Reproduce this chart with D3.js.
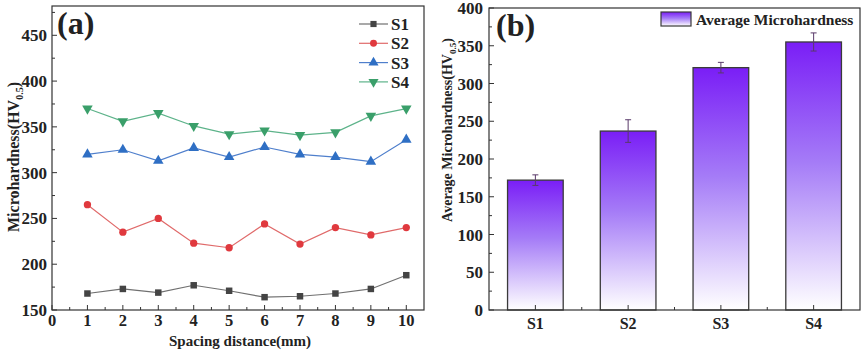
<!DOCTYPE html>
<html>
<head>
<meta charset="utf-8">
<script src="https://cdn.jsdelivr.net/npm/d3@7"></script>
<style>
  body { margin: 0; background: #fff; }
  svg text { font-family: "Liberation Serif", "DejaVu Serif", serif; font-weight: bold; fill: #222; }
</style>
</head>
<body>
<svg id="chart" width="865" height="350"></svg>
<script>
// panel (a): microhardness along the spacing distance
const distances = [1, 2, 3, 4, 5, 6, 7, 8, 9, 10];
const s1Values = [168, 173, 169, 177, 171, 164, 165, 168, 173, 188];
const s2Values = [265, 235, 250, 223, 218, 244, 222, 240, 232, 240];
const s3Values = [320, 325, 313, 327, 317, 328, 320, 317, 312, 336];
const s4Values = [370, 356, 365, 351, 342, 346, 341, 344, 362, 370];
const seriesNames = ['S1', 'S2', 'S3', 'S4'];

// panel (b): averages with error bars
const sampleNames = ['S1', 'S2', 'S3', 'S4'];
const avgValues = [172, 237, 321, 355];
const avgErrors = [7, 15, 7, 12];

const svg = d3.select('#chart');
const ink = '#333';

const seriesStyle = [
  { line: '#707070', fill: '#444', shape: d3.symbolSquare, rot: 0 },
  { line: '#e06a6a', fill: '#e0393e', shape: d3.symbolCircle, rot: 0 },
  { line: '#4f7fcc', fill: '#2f6fc4', shape: d3.symbolTriangle, rot: 0 },
  { line: '#5db38a', fill: '#3a9f6a', shape: d3.symbolTriangle, rot: 180 }
];

// ---------- panel (a) ----------
const ax = { left: 52, right: 424, top: 6, bottom: 310 };
const xA = d3.scaleLinear().domain([0, 10.5]).range([ax.left, ax.right]);
const yA = d3.scaleLinear().domain([150, 482]).range([ax.bottom, ax.top]);

const gA = svg.append('g');
gA.append('rect')
  .attr('x', ax.left).attr('y', ax.top)
  .attr('width', ax.right - ax.left).attr('height', ax.bottom - ax.top)
  .attr('fill', 'none').attr('stroke', ink).attr('stroke-width', 1.2);

function innerTicks(g, scale, values, len, orient, pos) {
  values.forEach((v) => {
    const p = scale(v);
    if (orient === 'x') {
      g.append('line').attr('x1', p).attr('x2', p).attr('y1', pos).attr('y2', pos - len).attr('stroke', ink);
    } else {
      g.append('line').attr('y1', p).attr('y2', p).attr('x1', pos).attr('x2', pos + len).attr('stroke', ink);
    }
  });
}

innerTicks(gA, xA, d3.range(0, 11), 5, 'x', ax.bottom);
innerTicks(gA, xA, d3.range(0.5, 10.5, 1), 3, 'x', ax.bottom);
innerTicks(gA, yA, d3.range(150, 451, 50), 5, 'y', ax.left);
innerTicks(gA, yA, d3.range(175, 480, 50), 3, 'y', ax.left);

gA.selectAll('.xl').data(d3.range(0, 11)).join('text')
  .attr('x', (d) => xA(d)).attr('y', 326)
  .attr('text-anchor', 'middle').attr('font-size', 16.5)
  .text((d) => d);

gA.selectAll('.yl').data(d3.range(150, 451, 50)).join('text')
  .attr('x', ax.left - 5).attr('y', (d) => yA(d) + 6)
  .attr('text-anchor', 'end').attr('font-size', 17)
  .text((d) => d);

gA.append('text').attr('x', 240).attr('y', 346)
  .attr('text-anchor', 'middle').attr('font-size', 15)
  .text('Spacing distance(mm)');

const titleA = gA.append('text')
  .attr('transform', 'translate(19,157) rotate(-90)')
  .attr('text-anchor', 'middle').attr('font-size', 16);
titleA.append('tspan').text('Microhardness(HV');
titleA.append('tspan').attr('font-size', 10).attr('dy', 4).text('0.5');
titleA.append('tspan').attr('dy', -4).text(')');

gA.append('text').attr('x', 57).attr('y', 34).attr('font-size', 32).text('(a)');

const allSeries = [s1Values, s2Values, s3Values, s4Values];
const line = d3.line().x((d) => xA(d[0])).y((d) => yA(d[1]));

allSeries.forEach((vals, i) => {
  const st = seriesStyle[i];
  const pts = distances.map((d, j) => [d, vals[j]]);
  gA.append('path').datum(pts)
    .attr('d', line).attr('fill', 'none')
    .attr('stroke', st.line).attr('stroke-width', 1.2);
  gA.selectAll(null).data(pts).join('path')
    .attr('d', d3.symbol().type(st.shape).size(st.shape === d3.symbolTriangle ? 48 : 42))
    .attr('transform', (d) => `translate(${xA(d[0])},${yA(d[1])}) rotate(${st.rot})`)
    .attr('fill', st.fill);
});

// legend (a)
const legA = gA.append('g');
seriesNames.forEach((name, i) => {
  const st = seriesStyle[i];
  const y = 24 + i * 19.3;
  legA.append('line').attr('x1', 359).attr('x2', 388).attr('y1', y).attr('y2', y)
    .attr('stroke', st.line).attr('stroke-width', 1.2);
  legA.append('path')
    .attr('d', d3.symbol().type(st.shape).size(st.shape === d3.symbolTriangle ? 44 : 38))
    .attr('transform', `translate(373.5,${y}) rotate(${st.rot})`)
    .attr('fill', st.fill);
  legA.append('text').attr('x', 391).attr('y', y + 6).attr('font-size', 17).text(name);
});

// ---------- panel (b) ----------
const bx = { left: 489, right: 860, top: 8, bottom: 310 };
const xB = d3.scaleLinear().domain([0.5, 4.5]).range([bx.left, bx.right]);
const yB = d3.scaleLinear().domain([0, 400]).range([bx.bottom, bx.top]);
const barW = xB(1.3) - xB(0.7);

const defs = svg.append('defs');
const grad = defs.append('linearGradient').attr('id', 'barGrad')
  .attr('x1', 0).attr('y1', 0).attr('x2', 0).attr('y2', 1);
grad.append('stop').attr('offset', '0%').attr('stop-color', '#7a1ef6');
grad.append('stop').attr('offset', '45%').attr('stop-color', '#a57cf7');
grad.append('stop').attr('offset', '100%').attr('stop-color', '#ffffff');

const gB = svg.append('g');

gB.selectAll('.bar').data(avgValues).join('rect')
  .attr('x', (d, i) => xB(i + 1) - barW / 2)
  .attr('y', (d) => yB(d))
  .attr('width', barW)
  .attr('height', (d) => yB(0) - yB(d))
  .attr('fill', 'url(#barGrad)')
  .attr('stroke', '#3a3a3a').attr('stroke-width', 1.3);

avgValues.forEach((v, i) => {
  const cx = xB(i + 1);
  const e = avgErrors[i];
  const c = '#5a3a6a';
  gB.append('line').attr('x1', cx).attr('x2', cx).attr('y1', yB(v + e)).attr('y2', yB(v - e))
    .attr('stroke', c).attr('stroke-width', 1);
  [v + e, v - e].forEach((t) => {
    gB.append('line').attr('x1', cx - 3).attr('x2', cx + 3).attr('y1', yB(t)).attr('y2', yB(t))
      .attr('stroke', c).attr('stroke-width', 1);
  });
});

gB.append('rect')
  .attr('x', bx.left).attr('y', bx.top)
  .attr('width', bx.right - bx.left).attr('height', bx.bottom - bx.top)
  .attr('fill', 'none').attr('stroke', ink).attr('stroke-width', 1.2);

innerTicks(gB, xB, [1, 2, 3, 4], 5, 'x', bx.bottom);
innerTicks(gB, xB, [1.5, 2.5, 3.5], 3, 'x', bx.bottom);
innerTicks(gB, yB, d3.range(0, 401, 50), 5, 'y', bx.left);
innerTicks(gB, yB, d3.range(25, 400, 50), 3, 'y', bx.left);

gB.selectAll('.xl').data(sampleNames).join('text')
  .attr('x', (d, i) => xB(i + 1)).attr('y', 329)
  .attr('text-anchor', 'middle').attr('font-size', 16)
  .text((d) => d);

gB.selectAll('.yl').data(d3.range(0, 401, 50)).join('text')
  .attr('x', bx.left - 6).attr('y', (d) => yB(d) + 6)
  .attr('text-anchor', 'end').attr('font-size', 17)
  .text((d) => d);

const titleB = gB.append('text')
  .attr('transform', 'translate(452,130) rotate(-90)')
  .attr('text-anchor', 'middle').attr('font-size', 14);
titleB.append('tspan').text('Average Microhardness(HV');
titleB.append('tspan').attr('font-size', 9).attr('dy', 4).text('0.5');
titleB.append('tspan').attr('dy', -4).text(')');

gB.append('text').attr('x', 496).attr('y', 36).attr('font-size', 32).text('(b)');

// legend (b)
gB.append('rect').attr('x', 661).attr('y', 12).attr('width', 30).attr('height', 14)
  .attr('fill', 'url(#barGrad)').attr('stroke', '#3a3a3a').attr('stroke-width', 1.2);
gB.append('text').attr('x', 696).attr('y', 24.5).attr('font-size', 15.5).text('Average Microhardness');
</script>
</body>
</html>
